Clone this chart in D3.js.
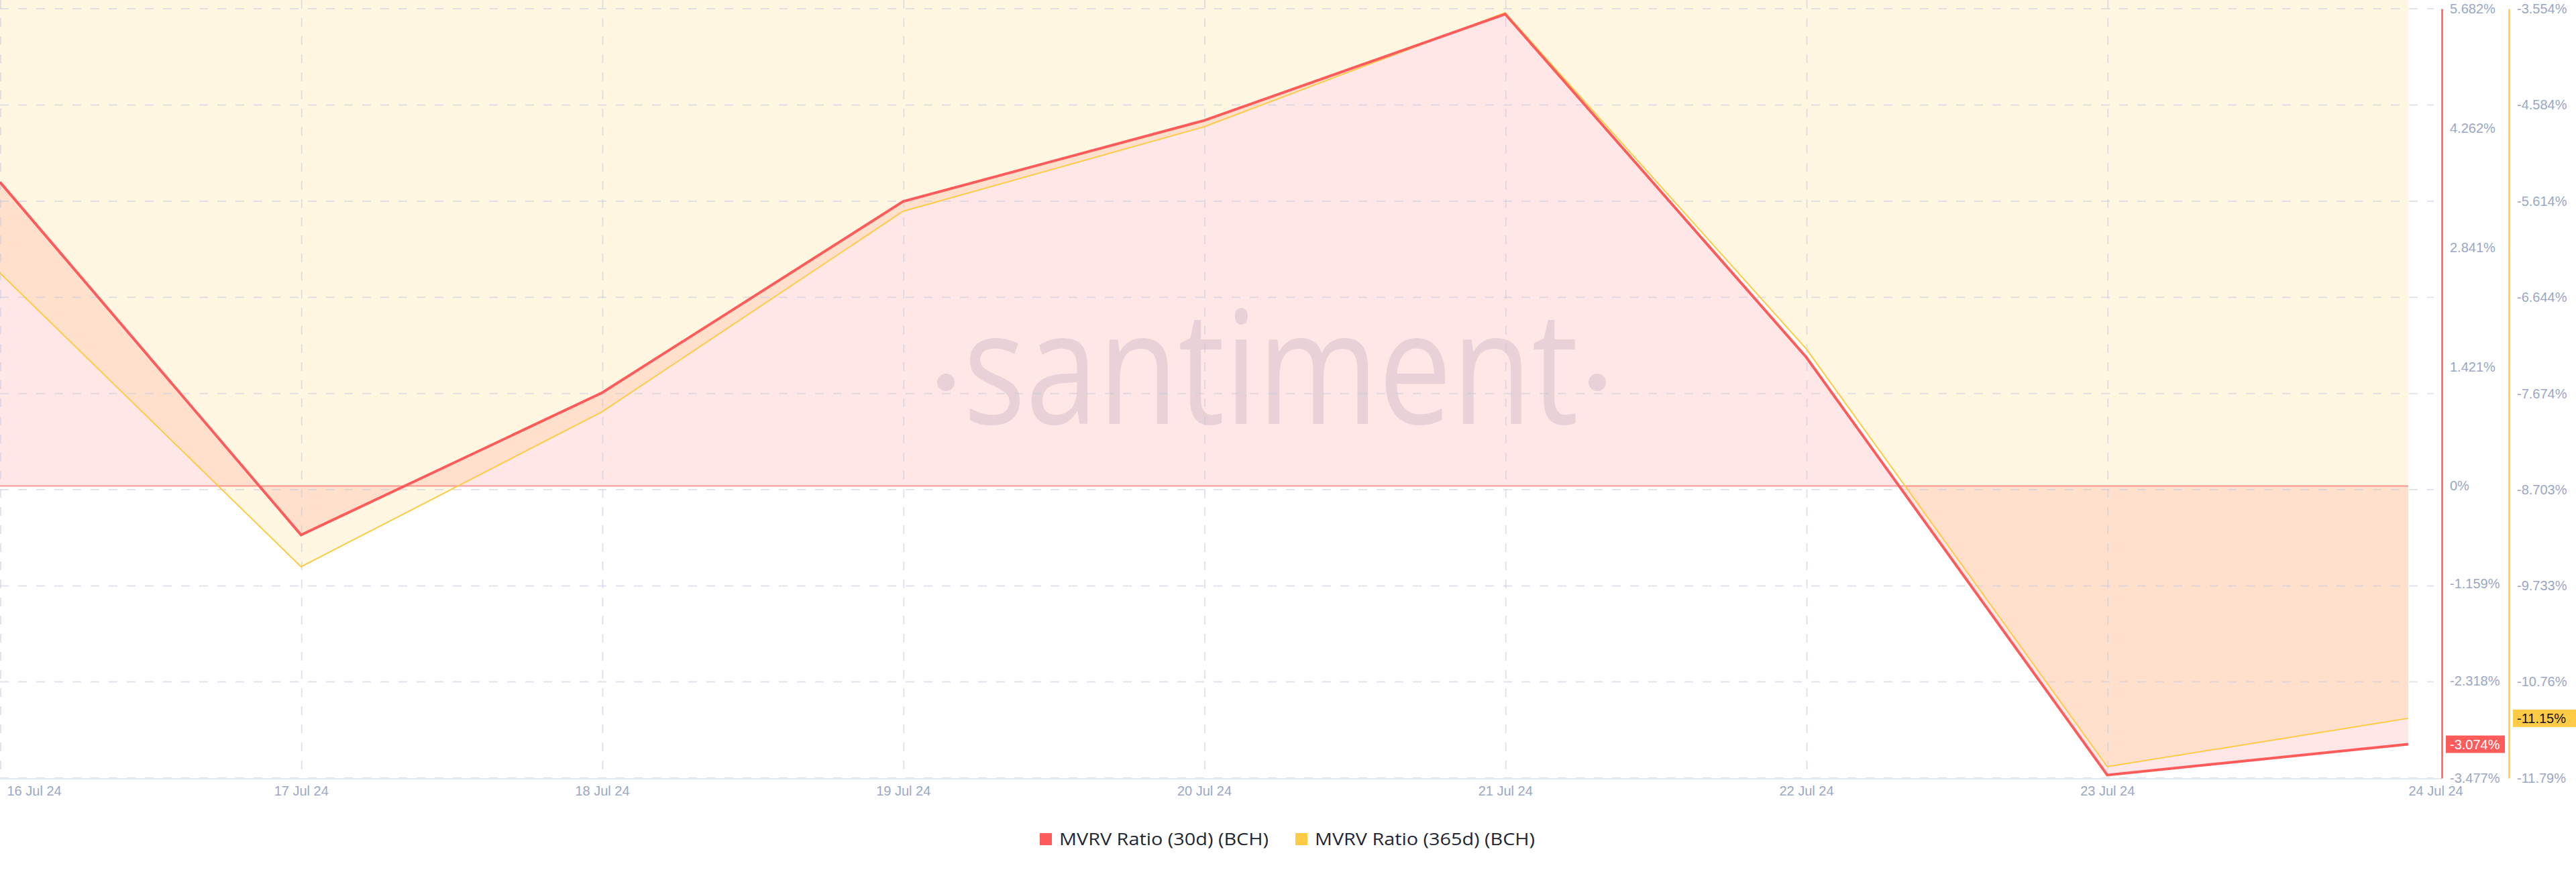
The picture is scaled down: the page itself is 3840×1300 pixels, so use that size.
<!doctype html>
<html lang="en">
<head>
  <meta charset="utf-8">
  <title>MVRV BCH</title>
  <style>
    * { margin: 0; padding: 0; box-sizing: border-box; }
    body { background: #fff; }
    #container { width: 3840px; height: 1300px; }
    text { font-family: "Liberation Sans", Arial, sans-serif; }
  </style>
</head>
<body>
  <div id="container"></div>
  <script src="https://cdn.jsdelivr.net/npm/d3@7/dist/d3.min.js"></script>
  <script>
    // values
    const days = ['2024-07-16','2024-07-17','2024-07-18','2024-07-19','2024-07-20',
                  '2024-07-21','2024-07-22','2024-07-23','2024-07-24'];
    const mvrv30 = [3.617, -0.582, 1.110, 3.387, 4.352, 5.618, 1.534, -3.44, -3.074];
    const mvrv365 = [-6.383, -9.528, -7.869, -5.722, -4.818, -3.597, -7.195, -11.668, -11.15];
    const ticks30 = [5.682, 4.262, 2.841, 1.421, 0, -1.159, -2.318, -3.477];
    const ticks365 = [-3.554, -4.584, -5.614, -6.644, -7.674, -8.703, -9.733, -10.76, -11.79];
    const seriesNames = ['MVRV Ratio (30d) (BCH)', 'MVRV Ratio (365d) (BCH)'];
    const colors = ['#ff5b5b', '#ffcb47'];

    const W = 3840, H = 1300;
    const plot = {left: 0, right: 3590, top: 13, bottom: 1160};
    const parse = d3.utcParse('%Y-%m-%d');
    const dates = days.map(parse);

    const data = dates.map((d, i) => ({date: d, a: mvrv30[i], b: mvrv365[i]}));

    const x = d3.scaleUtc().domain(d3.extent(dates)).range([plot.left, plot.right]);
    const yRed = d3.scaleLinear().domain([-3.477, 5.682]).range([plot.bottom, plot.top]);
    const yYel = d3.scaleLinear().domain([-11.79, -3.554]).range([plot.bottom, plot.top]);

    const svg = d3.select('#container').append('svg')
      .attr('width', W)
      .attr('height', H);

    svg.append('defs').append('clipPath').attr('id', 'clip')
      .append('rect').attr('x', 0).attr('y', 0).attr('width', plot.right).attr('height', plot.bottom);

    const g = svg.append('g').attr('clip-path', 'url(#clip)');

    // yellow area fills from its line up to the top
    g.append('path')
      .datum(data)
      .attr('fill', colors[1])
      .attr('fill-opacity', 0.16)
      .attr('d', d3.area().x(d => x(d.date)).y0(0).y1(d => yYel(d.b)));

    // red area fills from its line to zero
    g.append('path')
      .datum(data)
      .attr('fill', colors[0])
      .attr('fill-opacity', 0.15)
      .attr('d', d3.area().x(d => x(d.date)).y0(yRed(0)).y1(d => yRed(d.a)));

    // watermark: word plus the two logo dots
    const wmG = svg.append('g')
      .attr('fill', '#9c86a6')
      .attr('fill-opacity', 0.22);
    wmG.append('text')
      .attr('x', 1436)
      .attr('y', 632)
      .attr('textLength', 917)
      .attr('lengthAdjust', 'spacingAndGlyphs')
      .style('font-family', '"Open Sans", sans-serif')
      .style('font-size', '235px')
      .text('santiment');
    wmG.selectAll('circle').data([1410, 2381]).enter().append('circle')
      .attr('cx', d => d).attr('cy', 570).attr('r', 13);

    // grid
    const grid = svg.append('g')
      .attr('stroke', 'rgb(196,202,220)')
      .attr('stroke-opacity', 0.5)
      .attr('stroke-width', 2)
      .attr('stroke-dasharray', '13,14');
    grid.selectAll('line.h').data(ticks365).enter().append('line')
      .attr('class', 'h')
      .attr('x1', 0).attr('x2', 3628)
      .attr('y1', d => yYel(d)).attr('y2', d => yYel(d));
    grid.selectAll('line.v').data(dates.slice(0, -1)).enter().append('line')
      .attr('class', 'v')
      .attr('x1', d => x(d) + 1).attr('x2', d => x(d) + 1)
      .attr('y1', 0).attr('y2', plot.bottom);

    // zero line of the 30d series
    svg.append('line')
      .attr('x1', 0).attr('x2', plot.right)
      .attr('y1', yRed(0)).attr('y2', yRed(0))
      .attr('stroke', colors[0])
      .attr('stroke-opacity', 0.6)
      .attr('stroke-width', 2);

    // lines
    svg.append('path')
      .datum(data)
      .attr('fill', 'none')
      .attr('stroke', colors[1])
      .attr('stroke-width', 2)
      .attr('d', d3.line().x(d => x(d.date)).y(d => yYel(d.b)));
    svg.append('path')
      .datum(data)
      .attr('fill', 'none')
      .attr('stroke', colors[0])
      .attr('stroke-width', 4)
      .attr('d', d3.line().x(d => x(d.date)).y(d => yRed(d.a)));

    // bottom axis
    svg.append('line')
      .attr('x1', 0).attr('x2', 3640)
      .attr('y1', plot.bottom + 1).attr('y2', plot.bottom + 1)
      .attr('stroke', '#e3e7f0')
      .attr('stroke-width', 2);

    const xAxis = svg.append('g')
      .attr('transform', `translate(0,${plot.bottom})`)
      .call(d3.axisBottom(x).tickValues(dates).tickSize(0).tickPadding(12)
        .tickFormat(d3.utcFormat('%-d %b %y')));
    xAxis.select('.domain').remove();
    xAxis.selectAll('text')
      .attr('fill', '#9ba7c5')
      .style('font-size', '20px')
      .style('font-family', '"Liberation Sans", Arial, sans-serif');
    xAxis.selectAll('.tick').filter((d, i) => i === 0).select('text')
      .attr('text-anchor', 'start').attr('x', 10);
    xAxis.selectAll('.tick').filter((d, i) => i === dates.length - 1).select('text')
      .attr('text-anchor', 'start').attr('x', 0);

    // right axes
    function rightAxis(scale, ticks, fmt, xPos, color) {
      const ax = svg.append('g')
        .attr('transform', `translate(${xPos},0)`)
        .call(d3.axisRight(scale).tickValues(ticks).tickSize(0).tickSizeOuter(0).tickPadding(12)
          .tickFormat(fmt));
      ax.select('.domain').attr('stroke', color).attr('stroke-width', 2.5);
      ax.selectAll('text')
        .attr('fill', '#9ba7c5')
        .style('font-size', '20px')
        .style('font-family', '"Liberation Sans", Arial, sans-serif');
      return ax;
    }
    const hyphen = s => s.replace('\u2212', '-');
    const fmtRed = d => d === 0 ? '0%' : hyphen(d3.format('.3f')(d)) + '%';
    const fmtYel = d => hyphen(Math.abs(d) >= 10 ? d3.format('.2f')(d) : d3.format('.3f')(d)) + '%';
    rightAxis(yRed, ticks30, fmtRed, 3640, colors[0]);
    rightAxis(yYel, ticks365, fmtYel, 3740, colors[1]);

    // last value badges
    const last = data[data.length - 1];
    const badges = [
      {x: 3646, y: yRed(last.a), w: 88, fill: colors[0], text: fmtRed(last.a), tc: '#fff'},
      {x: 3746, y: yYel(last.b), w: 96, fill: colors[1], text: fmtYel(last.b), tc: '#111'}
    ];
    const bg = svg.selectAll('g.badge').data(badges).enter().append('g').attr('class', 'badge');
    bg.append('rect')
      .attr('x', d => d.x).attr('y', d => d.y - 13)
      .attr('width', d => d.w).attr('height', 26)
      .attr('fill', d => d.fill);
    bg.append('text')
      .attr('x', d => d.x + 6).attr('y', d => d.y)
      .attr('dy', '0.35em')
      .attr('fill', d => d.tc)
      .style('font-size', '20px')
      .text(d => d.text);

    // legend
    const legX = [1550, 1931];
    const legW = [312, 328];
    const leg = svg.selectAll('g.leg').data(seriesNames).enter().append('g')
      .attr('class', 'leg')
      .attr('transform', (d, i) => `translate(${legX[i]},1251)`);
    leg.append('rect')
      .attr('x', 0).attr('y', -9).attr('width', 18).attr('height', 18)
      .attr('fill', (d, i) => colors[i]);
    leg.append('text')
      .attr('x', 29).attr('dy', '0.35em')
      .attr('fill', '#1f2633')
      .attr('textLength', (d, i) => legW[i])
      .attr('lengthAdjust', 'spacingAndGlyphs')
      .style('font-family', '"Open Sans", sans-serif')
      .style('font-size', '26px')
      .text(d => d);
  </script>
</body>
</html>
